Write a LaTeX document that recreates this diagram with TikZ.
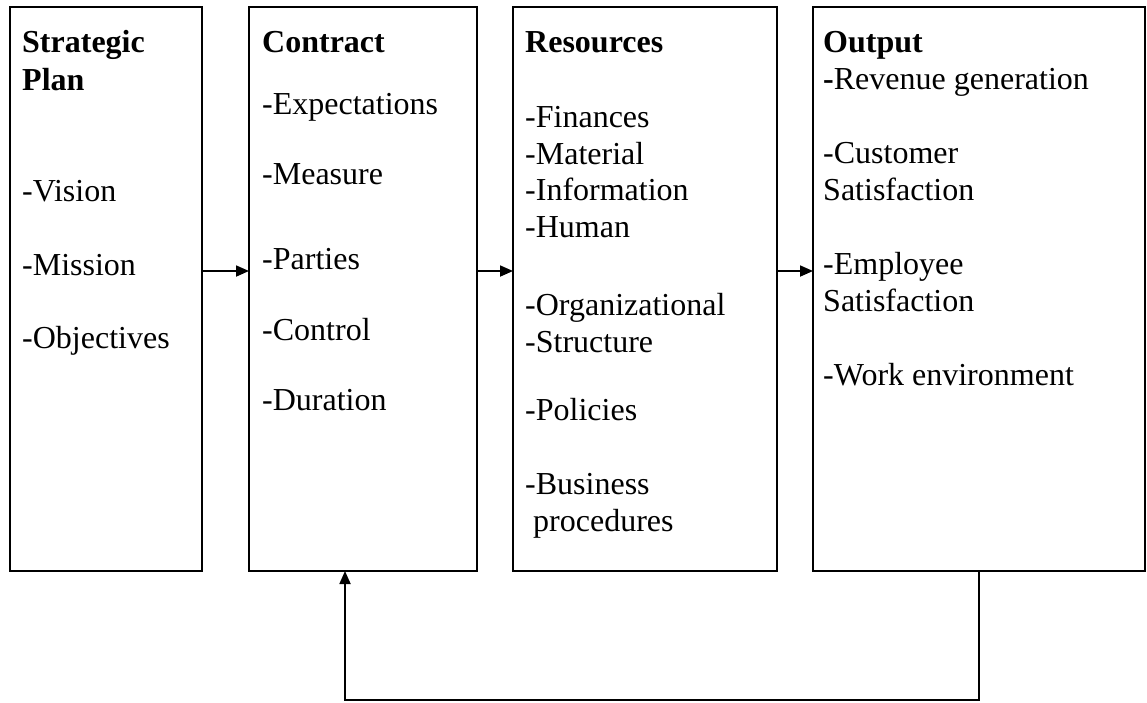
\documentclass[tikz,border=0pt]{standalone}
\usepackage{fontspec}
\setmainfont{Liberation Serif}
\usetikzlibrary{arrows.meta}
\begin{document}
\begin{tikzpicture}[x=1pt,y=-1pt,
  box/.style={draw, line width=1.6pt, anchor=north west, inner sep=0pt, outer sep=0pt},
  txt/.style={anchor=base west, inner sep=0pt, font=\fontsize{32}{37}\selectfont},
  arr/.style={line width=1.8pt, -{Triangle[length=13pt,width=11pt]}}]
\useasboundingbox (0,0) rectangle (1147,702);

% the four stages
\node[box, minimum width=192pt, minimum height=564pt] (b1) at (10,7) {};
\node[box, minimum width=228pt, minimum height=564pt] (b2) at (249,7) {};
\node[box, minimum width=264pt, minimum height=564pt] (b3) at (513,7) {};
\node[box, minimum width=332pt, minimum height=564pt] (b4) at (813,7) {};

% Strategic Plan
\foreach \y/\t [count=\i] in {45/\textbf{Strategic}, 83/\textbf{Plan}, 194/-Vision, 268/-Mission, 341/-Objectives}
  \node[txt] (s\i) at ([xshift=12pt,yshift=-\y pt]b1.north west) {\t};

% Contract
\foreach \y/\t [count=\i] in {45/\textbf{Contract}, 107/-Expectations, 177/-Measure, 262/-Parties, 333/-Control, 403/-Duration}
  \node[txt] (c\i) at ([xshift=13pt,yshift=-\y pt]b2.north west) {\t};

% Resources
\foreach \y/\t [count=\i] in {45/\textbf{Resources}, 120/-Finances, 157/-Material, 193/-Information, 230/-Human, 308/-Organizational, 345/-Structure, 413/-Policies, 487/-Business}
  \node[txt] (r\i) at ([xshift=12pt,yshift=-\y pt]b3.north west) {\t};
\node[txt] (r10) at ([xshift=20pt,yshift=-524pt]b3.north west) {procedures};

% Output
\foreach \y/\t [count=\i] in {45/\textbf{Output}, 82/{\textbf{-}Revenue generation}, 156/-Customer, 193/Satisfaction, 267/-Employee, 304/Satisfaction, 378/-Work environment}
  \node[txt] (o\i) at ([xshift=10pt,yshift=-\y pt]b4.north west) {\t};

% flow between stages
\draw[arr] (b1.east |- 0,271) -- (b2.west |- 0,271);
\draw[arr] (b2.east |- 0,271) -- (b3.west |- 0,271);
\draw[arr] (b3.east |- 0,271) -- (b4.west |- 0,271);

% feedback loop
\draw[arr] (b4.south) -- ++(0,129) -| ([xshift=-18pt]b2.south);
\end{tikzpicture}
\end{document}
